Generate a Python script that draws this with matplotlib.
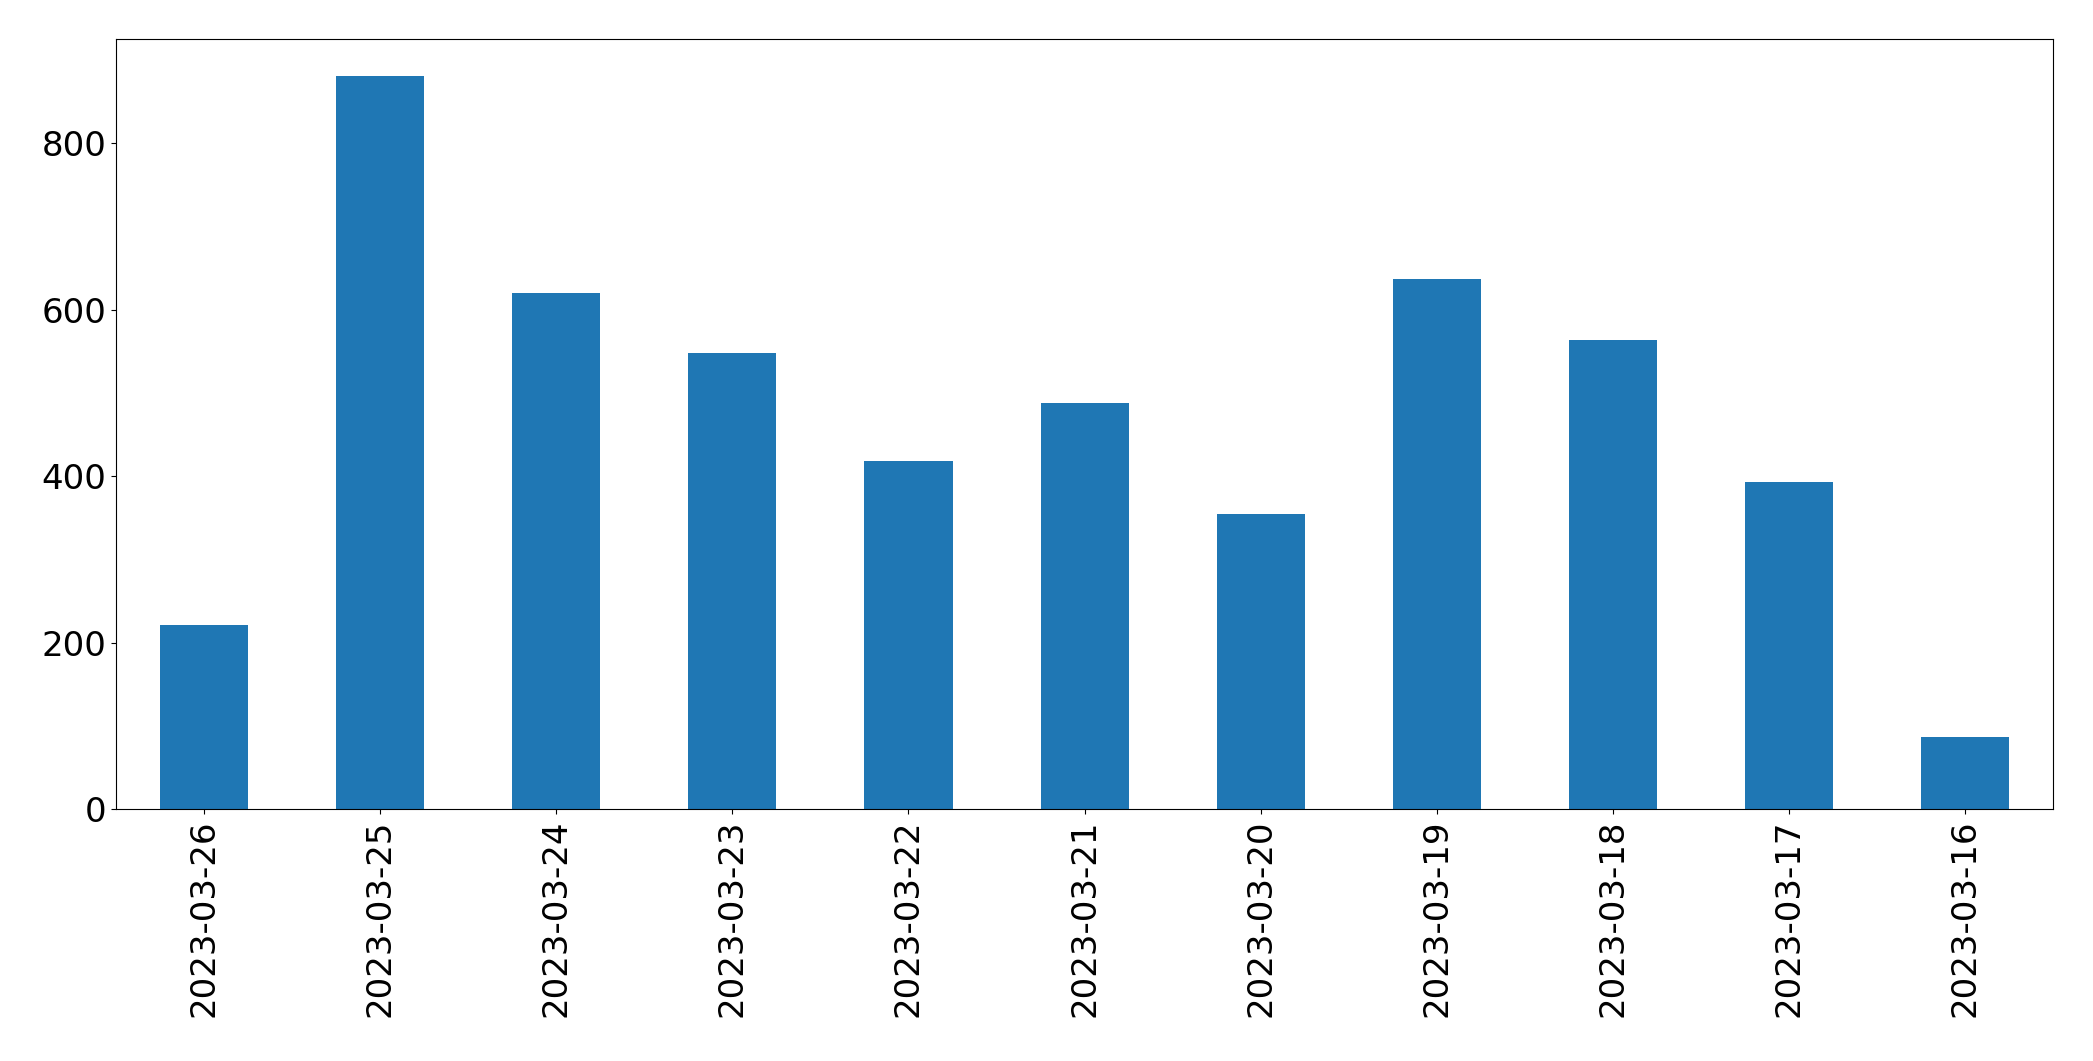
import matplotlib
matplotlib.use("Agg")
import matplotlib.pyplot as plt

dates = ["2023-03-26", "2023-03-25", "2023-03-24", "2023-03-23", "2023-03-22",
         "2023-03-21", "2023-03-20", "2023-03-19", "2023-03-18", "2023-03-17",
         "2023-03-16"]
counts = [221, 881, 620, 548, 418, 488, 355, 637, 564, 393, 87]

fig = plt.figure(figsize=(20.93, 10.61), dpi=100)
ax = fig.add_axes([0.0554, 0.2372, 0.981 - 0.0554, 0.963 - 0.2372])
x = list(range(len(dates)))
ax.bar(x, counts, width=0.5, color="#1f77b4")
ax.set_xlim(-0.5, len(dates) - 0.5)
ax.set_ylim(0, max(counts) * 1.05)
ax.set_xticks(x)
ax.set_xticklabels(dates, rotation=90, fontsize=24.5)
ax.set_yticks([0, 200, 400, 600, 800])
ax.tick_params(axis="y", labelsize=24.5)
fig.savefig("out.png", dpi=100)
